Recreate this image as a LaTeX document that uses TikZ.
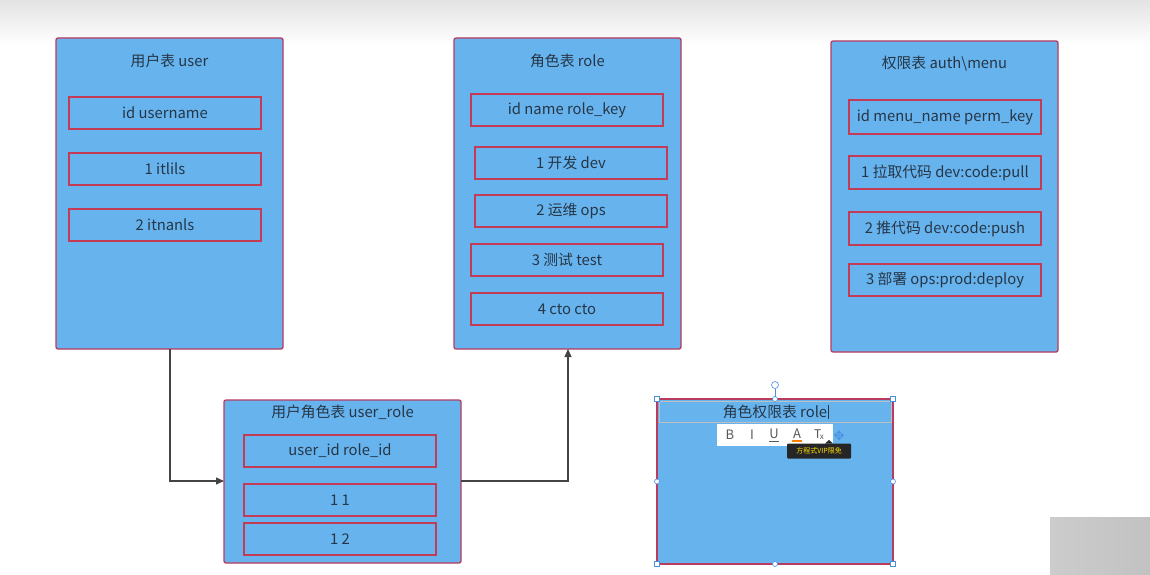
\documentclass[tikz,border=0pt]{standalone}
\usepackage{fontspec}
\setmainfont{Noto Sans CJK SC}
\newfontfamily\symfont{DejaVu Sans}
\usetikzlibrary{arrows.meta}
\definecolor{boxblue}{HTML}{67B3EE}
\definecolor{boxred}{HTML}{C53A55}
\definecolor{outred}{HTML}{B83B60}
\definecolor{txt}{HTML}{263646}
\definecolor{linegray}{HTML}{444444}
\definecolor{hblue}{HTML}{4A90E2}
\tikzset{
  table/.style={draw=outred, line width=1.3pt, fill=boxblue, rounded corners=2pt},
  field/.style={draw=boxred, line width=1.4pt, fill=boxblue, minimum width=192pt, minimum height=32pt, inner sep=0pt, text=txt, font=\fontsize{14.8}{16}\selectfont},
  ttl/.style={text=txt, font=\fontsize{14.8}{16}\selectfont, inner sep=0pt},
  link/.style={draw=linegray, line width=1.1pt, -{Triangle[length=8pt,width=7pt]}},
  handle/.style={draw=hblue, fill=white, line width=0.6pt, minimum size=5pt, inner sep=0pt},
  tool/.style={text=black!65, font=\fontsize{13}{14}\selectfont, inner sep=0pt},
}
\begin{document}
\begin{tikzpicture}[x=1pt,y=-1pt]
\useasboundingbox (0,0) rectangle (1150,575);
\fill[white] (0,0) rectangle (1150,575);
\shade[top color=black!11, bottom color=white] (0,0) rectangle (1150,45);

% user table
\draw[table] (56,38) rectangle (283,349);
\node[ttl] (ut) at (169.5,61) {用户表 user};
\node[field] (u1) at (165,113) {id username};
\node[field] (u2) at (165,169) {1 itlils};
\node[field] (u3) at (165,225) {2 itnanls};
\coordinate (ubot) at (170,349);

% role table
\draw[table] (454,38) rectangle (681,349);
\node[ttl] (rt) at (567.5,61) {角色表 role};
\node[field] (r1) at (567,110) {id name role\_key};
\node[field] (r2) at (571,163) {1 开发 dev};
\node[field] (r3) at (571,211) {2 运维 ops};
\node[field] (r4) at (567,260) {3 测试 test};
\node[field] (r5) at (567,309) {4 cto cto};
\coordinate (rbot) at (568,349);

% auth table
\draw[table] (831,41) rectangle (1058,352);
\node[ttl] (at) at (944.5,64) {权限表 auth\textbackslash menu};
\node[field, minimum height=34pt] (a1) at (945,117) {id menu\_name perm\_key};
\node[field, minimum height=33pt] (a2) at (945,172.5) {1 拉取代码 dev:code:pull};
\node[field, minimum height=33pt] (a3) at (945,228.5) {2 推代码 dev:code:push};
\node[field] (a4) at (945,280) {3 部署 ops:prod:deploy};

% user_role table
\draw[table] (224,400) rectangle (461,563);
\node[ttl] (urt) at (342.5,412) {用户角色表 user\_role};
\node[field] (ur1) at (340,451) {user\_id role\_id};
\node[field] (ur2) at (340,500) {1 1};
\node[field] (ur3) at (340,539) {1 2};
\coordinate (urleft) at (224,481);
\coordinate (urright) at (461,481);

% connectors
\draw[link] (ubot) |- (urleft);
\draw[link] (urright) -| (rbot);

% role_auth table (being edited)
\draw[draw=outred, line width=1.3pt, fill=boxblue] (657,399) rectangle (893,564);
\draw[draw=black!25, line width=1pt, fill=boxblue] (659,401) rectangle (891,422);
\node[ttl] (rat) at (775,411.5) {角色权限表 role};
\draw[txt, line width=0.6pt] ([xshift=1pt,yshift=7pt]rat.east) -- ([xshift=1pt,yshift=-7pt]rat.east);
% toolbar
\node[fill=white, minimum width=116pt, minimum height=22pt, inner sep=0pt] (tb) at (775,435) {};
\node[tool] (tbb) at (730,434.5) {B};
\node[tool, font=\itshape\fontsize{13}{14}\selectfont] (tbi) at (752,434.5) {I};
\node[tool] (tbu) at (774,433.5) {U};
\draw[black!65, line width=0.6pt] (769,441) -- (779,441);
\node[tool] (tba) at (797,433.5) {A};
\draw[orange, line width=1.2pt] (792,441) -- (802,441);
\node[tool, font=\fontsize{12}{14}\selectfont] (tbt) at (819,434.5) {T\kern-1.5pt\raisebox{-1pt}{\fontsize{8}{8}\selectfont x}};
\node[text=hblue, font=\symfont\fontsize{13}{14}\selectfont, inner sep=0pt] (mv) at (839,436) {✥};
\node[fill=black!85, rounded corners=1pt, minimum width=64pt, minimum height=15pt, inner sep=0pt, text=yellow!80!orange, font=\fontsize{7}{8}\selectfont] (tip) at (819,451) {方程式VIP限免};
\fill[black!85] (825,443.5) -- (829,440) -- (833,443.5) -- cycle;
% selection handles
\draw[hblue, line width=0.6pt] (775,389) -- (775,399);
\node[draw=hblue, fill=white, circle, line width=0.6pt, minimum size=7pt, inner sep=0pt] (rot) at (775,385) {};
\foreach \p in {(657,399),(893,399),(657,564),(893,564)}
  \node[handle] at \p {};
\foreach \p in {(775,399),(657,481.5),(893,481.5),(775,564)}
  \node[handle, circle] at \p {};

% webcam-ish gray box bottom right
\shade[left color=black!20, right color=black!24] (1050,517) rectangle (1150,575);
\end{tikzpicture}
\end{document}
